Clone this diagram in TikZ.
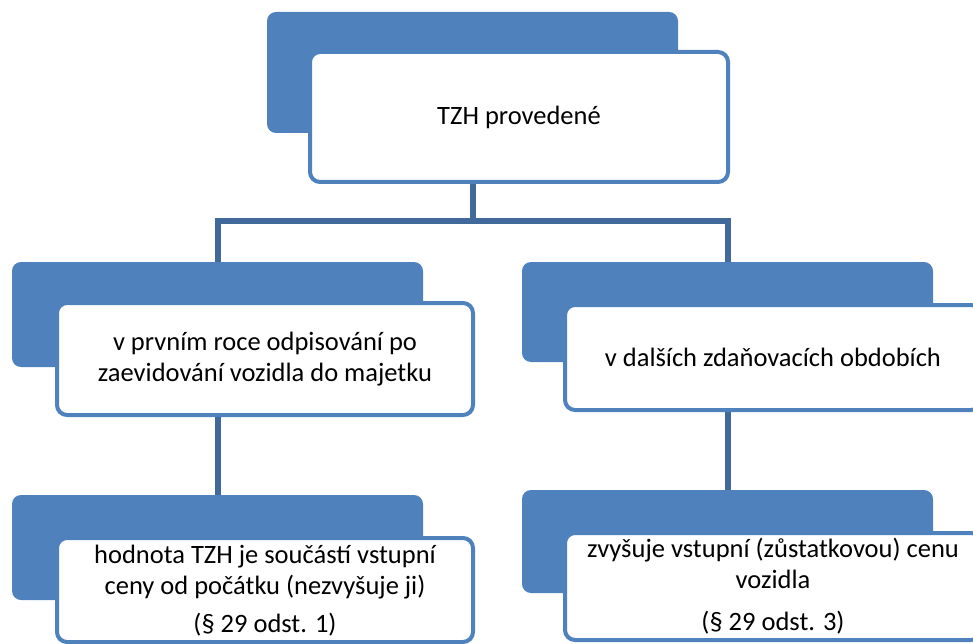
\documentclass[tikz,border=0pt]{standalone}
\usepackage{fontspec}
\setmainfont{Carlito}
\definecolor{accent}{HTML}{4F81BD}
\definecolor{conn}{HTML}{41699A}
\begin{document}
\begin{tikzpicture}[x=1pt,y=-1pt,
  back/.style={draw=none,fill=accent,rounded corners=9pt,inner sep=0pt},
  front/.style={draw=accent,line width=4pt,fill=white,rounded corners=10pt,inner sep=0pt,
     align=center,font=\fontsize{26.5}{30.5}\selectfont},
  link/.style={draw=conn,line width=6pt,line join=miter}]
\useasboundingbox (0,0) rectangle (973,644);
\begin{scope}
\clip (0,0) rectangle (973,644);
% top
\node[back,minimum width=411pt,minimum height=121pt] (tb) at (472.5,72.5) {};
\node[front,minimum width=418pt,minimum height=130pt] (tw) at (519,117) {TZH provedené};
% middle
\node[back,minimum width=411pt,minimum height=105pt] (lb) at (217.5,314.5) {};
\node[front,minimum width=416pt,minimum height=112pt] (lw) at (265,359) {v prvním roce odpisování po\\zaevidování vozidla do majetku};
\node[back,minimum width=411pt,minimum height=100pt] (rb) at (727.5,312) {};
\node[front,minimum width=416pt,minimum height=105pt] (rw) at (773,357.5) {v dalších zdaňovacích obdobích};
% bottom
\node[back,minimum width=411pt,minimum height=105pt] (blb) at (217.5,547.5) {};
\node[front,minimum width=416pt,minimum height=104pt] (blw) at (265,590) {};
\node[align=center,font=\fontsize{26.5}{30.5}\selectfont,inner sep=0pt] (blt) at (blw.center) [yshift=-1pt] {hodnota TZH je součástí vstupní\\ceny od počátku (nezvyšuje ji)\\[8pt](§ 29 odst. 1)};
\node[back,minimum width=411pt,minimum height=103pt] (brb) at (727.5,541.5) {};
\node[front,minimum width=416pt,minimum height=107pt] (brw) at (773,586.5) {};
\node[align=center,font=\fontsize{26.5}{30.5}\selectfont,inner sep=0pt] (brt) at (brw.center) [yshift=0pt] {zvyšuje vstupní (zůstatkovou) cenu\\vozidla\\[12pt](§ 29 odst. 3)};
% connectors
\coordinate (j) at (0,221);
\draw[link] (tb.south |- tw.south) -- (tb.south |- j) -| (lb.north);
\draw[link] (tb.south |- j) -| (rb.north);
\draw[link] (lb.south |- lw.south) -- (blb.north);
\draw[link] (rb.south |- rw.south) -- (brb.north);
\end{scope}
\end{tikzpicture}
\end{document}
